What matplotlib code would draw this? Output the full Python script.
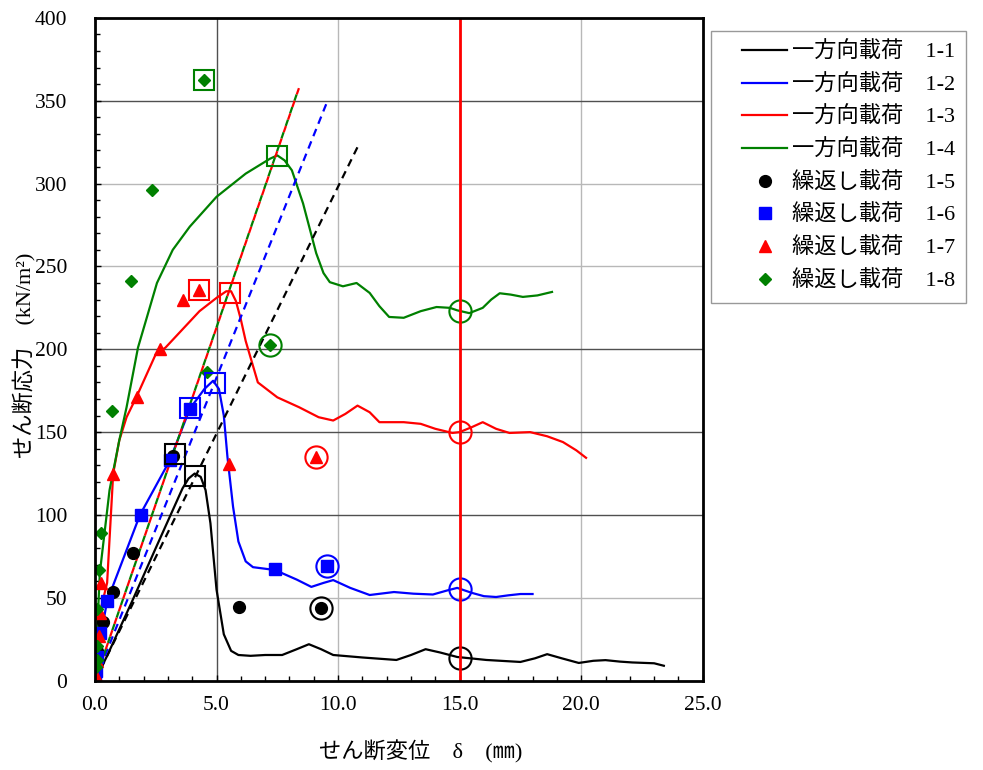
import numpy as np
import matplotlib
matplotlib.use("Agg")
import matplotlib.pyplot as plt
from matplotlib.lines import Line2D
from matplotlib.legend_handler import HandlerLine2D
from matplotlib.ticker import MultipleLocator

plt.rcParams['font.family'] = ['Liberation Serif', 'Noto Sans CJK JP']

# monotonic loading curves (displacement mm, stress kN/m2)
x_11 = [0, 0.5, 1.5, 2.5, 3.6, 3.85, 4.1, 4.35, 4.55, 4.75, 5.0, 5.3, 5.6, 5.9, 6.4, 7.0, 7.7,
        8.3, 8.8, 9.3, 9.8, 11.0, 12.4, 13.0, 13.6, 14.2, 14.9, 16.1, 17.5, 18.1, 18.6, 19.2,
        19.9, 20.5, 21.0, 21.6, 22.1, 23.0, 23.4]
y_11 = [0, 15, 47, 80, 116, 122, 125, 123, 115, 95, 55, 28, 18, 15.5, 15, 15.5, 15.5,
        19, 22, 19, 15.5, 14, 12.5, 15.5, 19, 17, 14.3, 12.5, 11.3, 13.5, 16, 13.5,
        10.7, 12, 12.4, 11.5, 11, 10.5, 9]

x_12 = [0, 0.2, 0.5, 1.85, 3.08, 3.9, 4.5, 4.86, 5.1, 5.3, 5.45, 5.68, 5.9, 6.2, 6.5, 7.4,
        8.3, 8.9, 9.4, 9.8, 10.5, 11.3, 12.3, 13.1, 13.9, 14.5, 14.9, 15.5, 16.0, 16.5, 17.0,
        17.5, 18.0]
y_12 = [0, 24, 48, 100, 133, 164, 176, 181, 176, 160, 135, 105, 84, 72, 68.5, 66.8,
        61, 56.6, 59, 60.7, 56, 51.7, 53.5, 52.5, 52, 54.5, 56, 53, 51, 50.5, 51.5,
        52.3, 52.3]

x_13 = [0, 0.2, 0.5, 0.75, 1.0, 1.3, 1.7, 2.5, 2.9, 3.6, 4.3, 5.0, 5.4, 5.6, 5.8, 6.0, 6.2,
        6.7, 7.5, 8.4, 9.2, 9.8, 10.3, 10.8, 11.3, 11.7, 12.7, 13.4, 14.0, 14.7, 15.0, 15.5,
        15.95, 16.5, 17.05, 17.9, 18.6, 19.25, 19.8, 20.2]
y_13 = [0, 41, 59, 125, 145, 159, 171, 197, 201, 212, 223, 231, 235, 235, 229, 218, 205,
        180, 171, 165, 159, 157, 161, 166, 162, 156, 156, 155, 152, 149.5, 150, 153,
        156, 152, 149.5, 150, 147.5, 144, 139, 134.5]

x_14 = [0, 0.2, 0.6, 1.0, 1.3, 1.77, 2.55, 3.2, 3.9, 5.0, 6.2, 7.2, 7.5, 7.8, 8.1, 8.56, 9.1,
        9.4, 9.66, 10.2, 10.76, 11.3, 11.7, 12.1, 12.7, 13.4, 14.05, 14.6, 14.9, 15.4, 15.95,
        16.3, 16.65, 17.1, 17.6, 18.2, 18.8]
y_14 = [0, 65, 115, 145, 165, 201, 240, 260, 274, 292, 306, 315, 317, 314, 308, 288, 258,
        246, 240.5, 238, 240, 234, 226, 219.5, 219, 223, 225.5, 225, 223.5, 221.8, 225,
        230, 233.8, 233, 231.6, 232.5, 234.6]

# secant lines
sec_x_11 = [0, 10.8]
sec_y_11 = [0, 322]
sec_x_12 = [0, 9.53]
sec_y_12 = [0, 348.6]
sec_x_13 = [0, 8.4]
sec_y_13 = [0, 358]
sec_x_14 = [0, 8.3]
sec_y_14 = [0, 354]

# cyclic loading points
x_15 = [0.0, 0.05, 0.1, 0.34, 0.75, 1.55, 3.22, 5.93, 9.28]
y_15 = [0, 8, 18, 35.5, 53.5, 77, 135.6, 44.5, 43.8]
x_16 = [0.0, 0.05, 0.1, 0.2, 0.48, 1.9, 3.08, 3.9, 7.4, 9.55]
y_16 = [0, 6, 14, 29, 48, 100, 133, 164, 67.3, 69.3]
x_17 = [0.05, 0.1, 0.15, 0.2, 0.25, 0.75, 1.72, 2.67, 3.63, 4.27, 5.5, 9.08]
y_17 = [3, 12, 27, 41, 59, 125, 171, 200, 230, 236, 131, 135]
x_18 = [0.05, 0.08, 0.1, 0.1, 0.15, 0.25, 0.7, 1.48, 2.33, 4.48, 4.6, 7.2]
y_18 = [8, 12.5, 21, 43, 67, 89, 163, 241, 296, 362.5, 186, 202.5]

# highlighted points: open squares (peaks) and open circles
box_x = [4.11, 3.3, 4.93, 3.9, 5.55, 4.27, 7.48, 4.48]
box_y = [123.5, 136.5, 179.6, 164.5, 234, 235.7, 316.6, 362.5]
box_c = ['black', 'black', 'blue', 'blue', 'red', 'red', 'green', 'green']
circ_x = [15.0, 15.0, 15.0, 15.0, 9.28, 9.55, 9.08, 7.2]
circ_y = [13.7, 55.3, 150, 223, 43.8, 69.3, 135, 202.5]
circ_c = ['black', 'blue', 'red', 'green', 'black', 'blue', 'red', 'green']

limit_x = 15.0

xticks = [0, 5, 10, 15, 20, 25]
xtick_labels = ['0.0', '5.0', '10.0', '15.0', '20.0', '25.0']
yticks = [0, 50, 100, 150, 200, 250, 300, 350, 400]

labels = ['一方向載荷　1-1', '一方向載荷　1-2', '一方向載荷　1-3', '一方向載荷　1-4',
          '繰返し載荷　1-5', '繰返し載荷　1-6', '繰返し載荷　1-7', '繰返し載荷　1-8']

fig = plt.figure(figsize=(9.83, 7.70), dpi=100)
ax = fig.add_axes([0.0966, 0.1160, 0.6183, 0.8608])

lw = 1.6
ax.plot(x_11, y_11, color='black', lw=lw)
ax.plot(x_12, y_12, color='blue', lw=lw)
ax.plot(x_13, y_13, color='red', lw=lw)
ax.plot(x_14, y_14, color='green', lw=lw)

ax.plot(sec_x_11, sec_y_11, color='black', lw=lw, ls=(0, (3.5, 2.5)))
ax.plot(sec_x_12, sec_y_12, color='blue', lw=lw, ls=(0, (3.5, 2.5)))
ax.plot(sec_x_14, sec_y_14, color='green', lw=lw, ls=(0, (3, 3)))
ax.plot(sec_x_13, sec_y_13, color='red', lw=lw, ls=(3, (3, 3)))

ax.plot(x_15, y_15, 'o', color='black', ms=8.5, ls='none')
ax.plot(x_16, y_16, 's', color='blue', ms=8, ls='none')
ax.plot(x_17, y_17, '^', color='red', ms=9, ls='none')
ax.plot(x_18, y_18, 'D', color='green', ms=6.5, ls='none')

for bx, by, c in zip(box_x, box_y, box_c):
    ax.plot(bx, by, 's', ms=14, mfc='none', mec=c, mew=1.5)
for cx, cy, c in zip(circ_x, circ_y, circ_c):
    ax.plot(cx, cy, 'o', ms=16, mfc='none', mec=c, mew=1.5)

ax.axvline(limit_x, color='red', lw=2)

ax.set_xlim(0, 25)
ax.set_ylim(0, 400)
ax.set_xticks(xticks)
ax.set_xticklabels(xtick_labels)
ax.set_yticks(yticks)
ax.xaxis.set_minor_locator(MultipleLocator(1))
ax.yaxis.set_minor_locator(MultipleLocator(10))
ax.tick_params(which='both', direction='in', width=1)
ax.tick_params(which='major', length=4)
ax.tick_params(which='minor', length=3.5)
ax.tick_params(axis='x', which='major', labelsize=15.5, pad=11)
ax.tick_params(axis='y', which='major', labelsize=15.5, pad=20)

ax.grid(True, which='major', lw=1)
dark = '#505050'
light = '#b8b8b8'
for val, gl in zip(yticks, ax.get_ygridlines()):
    gl.set_color(dark if val in (100, 150, 200, 350) else light)
for val, gl in zip(xticks, ax.get_xgridlines()):
    gl.set_color(dark if val == 5 else light)
ax.set_axisbelow(True)

for sp in ax.spines.values():
    sp.set_linewidth(2)

ax.set_xlabel('せん断変位　δ　(㎜)', fontsize=16)
ax.xaxis.set_label_coords(0.536, -0.1076)
ax.xaxis.label.set_verticalalignment('center')
ax.set_ylabel('せん断応力　(kN/m²)', fontsize=16)
ax.yaxis.set_label_coords(-0.115, 0.491)
ax.yaxis.label.set_verticalalignment('center')

handles = [Line2D([], [], color='black', lw=lw),
           Line2D([], [], color='blue', lw=lw),
           Line2D([], [], color='red', lw=lw),
           Line2D([], [], color='green', lw=lw),
           Line2D([], [], ls='none', marker='o', color='black', ms=8.5),
           Line2D([], [], ls='none', marker='s', color='blue', ms=8),
           Line2D([], [], ls='none', marker='^', color='red', ms=9),
           Line2D([], [], ls='none', marker='D', color='green', ms=6.5)]
hmap = {h: HandlerLine2D(marker_pad=0.9, numpoints=2) for h in handles[:4]}

leg = fig.legend(handles, labels, loc='upper left', bbox_to_anchor=(711 / 983, 1 - 30.7 / 770),
                 borderaxespad=0, fontsize=16, numpoints=1, handlelength=3.82,
                 handletextpad=-0.67, labelspacing=0.52, borderpad=0.5,
                 fancybox=False, edgecolor='#808080', handler_map=hmap)
leg.get_frame().set_linewidth(1)

fig.savefig('out.png', dpi=100)
